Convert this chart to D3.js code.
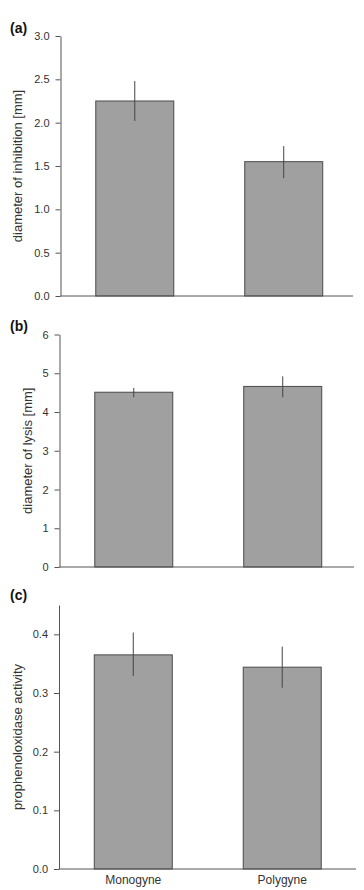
<!DOCTYPE html>
<html>
<head>
<meta charset="utf-8">
<script src="https://cdn.jsdelivr.net/npm/d3@7"></script>
<style>
  body { margin: 0; background: #fff; }
  svg { display: block; font-family: "Liberation Sans", Arial, sans-serif; }
</style>
</head>
<body>
<svg id="chart" width="364" height="890"></svg>
<script>
// categories shared by all three panels
var categories = ["Monogyne", "Polygyne"];

// (a) diameter of inhibition
var inhibitionMean = [2.25, 1.55];
var inhibitionLow = [2.02, 1.36];
var inhibitionHigh = [2.48, 1.73];
var inhibitionTicks = [0, 0.5, 1.0, 1.5, 2.0, 2.5, 3.0];

// (b) diameter of lysis
var lysisMean = [4.51, 4.66];
var lysisLow = [4.38, 4.38];
var lysisHigh = [4.62, 4.92];
var lysisTicks = [0, 1, 2, 3, 4, 5, 6];

// (c) prophenoloxidase activity
var poMean = [0.365, 0.344];
var poLow = [0.329, 0.309];
var poHigh = [0.403, 0.379];
var poTicks = [0, 0.1, 0.2, 0.3, 0.4];

var svg = d3.select("#chart");

var panels = [
  { tag: "(a)", label: "diameter of inhibition [mm]", mean: inhibitionMean, lo: inhibitionLow, hi: inhibitionHigh,
    ticks: inhibitionTicks, max: 3.0, fmt: d3.format(".1f"),
    top: 36, bottom: 296, axisX: 60.5, axisEnd: 353, tagY: 33, labelX: 22 },
  { tag: "(b)", label: "diameter of lysis [mm]", mean: lysisMean, lo: lysisLow, hi: lysisHigh,
    ticks: lysisTicks, max: 6, fmt: d3.format("d"),
    top: 334.5, bottom: 567, axisX: 59.5, axisEnd: 354, tagY: 331, labelX: 32 },
  { tag: "(c)", label: "prophenoloxidase activity", mean: poMean, lo: poLow, hi: poHigh,
    ticks: poTicks, max: 0.45, fmt: d3.format(".1f"),
    top: 605, bottom: 869, axisX: 59, axisEnd: 356, tagY: 600, labelX: 22, showCats: true }
];

panels.forEach(function (p) {
  var g = svg.append("g");

  var x = d3.scaleBand()
    .domain(categories)
    .range([p.axisX + 2.5, p.axisX + 295])
    .paddingInner(0.4765)
    .paddingOuter(0.22);

  var y = d3.scaleLinear()
    .domain([0, p.max])
    .range([p.bottom, p.top]);

  // bars
  g.selectAll("rect.bar")
    .data(categories)
    .enter().append("rect")
    .attr("class", "bar")
    .attr("x", function (d) { return x(d); })
    .attr("width", x.bandwidth())
    .attr("y", function (d, i) { return y(p.mean[i]); })
    .attr("height", function (d, i) { return y(0) - y(p.mean[i]); })
    .attr("fill", "#a0a0a0")
    .attr("stroke", "#4a4a4a")
    .attr("stroke-width", 1);

  // error bars
  g.selectAll("line.err")
    .data(categories)
    .enter().append("line")
    .attr("class", "err")
    .attr("x1", function (d) { return x(d) + x.bandwidth() / 2; })
    .attr("x2", function (d) { return x(d) + x.bandwidth() / 2; })
    .attr("y1", function (d, i) { return y(p.lo[i]); })
    .attr("y2", function (d, i) { return y(p.hi[i]); })
    .attr("stroke", "#444")
    .attr("stroke-width", 1);

  // y axis
  var yAxis = g.append("g")
    .attr("transform", "translate(" + p.axisX + ",0)")
    .call(d3.axisLeft(y).tickValues(p.ticks).tickFormat(p.fmt).tickSize(5).tickSizeOuter(0).tickPadding(6));
  yAxis.select(".domain").attr("stroke", "#555");
  yAxis.selectAll(".tick line").attr("stroke", "#555");
  yAxis.selectAll(".tick text")
    .attr("fill", "#333")
    .style("font-size", "11px")
    .style("font-family", "Liberation Sans, Arial, sans-serif");

  // baseline
  g.append("line")
    .attr("x1", p.axisX).attr("x2", p.axisEnd)
    .attr("y1", y(0)).attr("y2", y(0))
    .attr("stroke", "#555");

  // y label
  g.append("text")
    .attr("transform", "translate(" + p.labelX + "," + ((p.top + p.bottom) / 2) + ") rotate(-90)")
    .attr("text-anchor", "middle")
    .attr("fill", "#333")
    .style("font-size", "13px")
    .text(p.label);

  // panel tag
  g.append("text")
    .attr("x", 10)
    .attr("y", p.tagY)
    .attr("fill", "#111")
    .style("font-size", "14px")
    .style("font-weight", "bold")
    .text(p.tag);

  if (p.showCats) {
    g.selectAll("text.cat")
      .data(categories)
      .enter().append("text")
      .attr("class", "cat")
      .attr("x", function (d) { return x(d) + x.bandwidth() / 2; })
      .attr("y", y(0) + 15)
      .attr("text-anchor", "middle")
      .attr("fill", "#333")
      .style("font-size", "12px")
      .text(function (d) { return d; });
  }
});
</script>
</body>
</html>
